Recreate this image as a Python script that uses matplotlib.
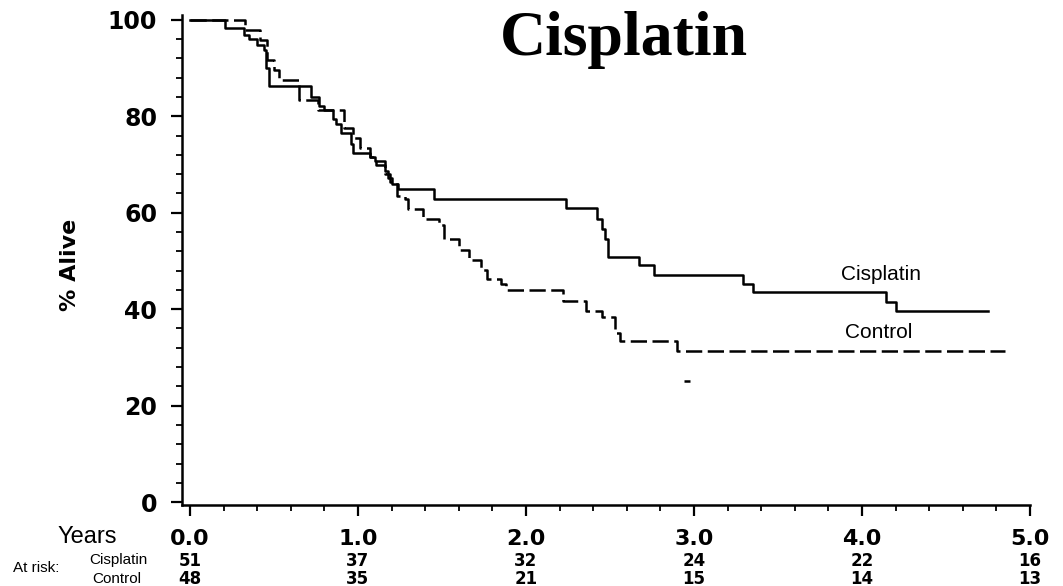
import matplotlib
matplotlib.use("Agg")
import matplotlib.pyplot as plt
import matplotlib.transforms as mtransforms
import numpy as np

# Kaplan-Meier steps (years, % alive)
cis_t = [0.0, 0.21, 0.32, 0.35, 0.40, 0.44, 0.45, 0.47, 0.72, 0.77, 0.80, 0.85, 0.87,
         0.90, 0.96, 0.97, 1.07, 1.10, 1.16, 1.18, 1.20, 1.24, 1.45, 2.24, 2.42, 2.45,
         2.47, 2.49, 2.67, 2.76, 3.29, 3.35, 4.14, 4.20]
cis_s = [100, 98.3, 96.9, 96.0, 94.8, 93.7, 90.0, 86.2, 83.9, 82.2, 81.2, 79.5, 78.3,
         76.6, 74.3, 72.4, 71.5, 70.7, 68.6, 67.2, 65.9, 64.9, 62.8, 60.9, 58.8, 56.7,
         54.6, 50.8, 49.1, 47.1, 45.2, 43.5, 41.4, 39.7]
cis_end = 4.75

ctl_t = [0.0, 0.33, 0.42, 0.46, 0.50, 0.53, 0.65, 0.76, 0.92, 0.97, 1.01, 1.07, 1.11,
         1.16, 1.19, 1.23, 1.28, 1.30, 1.39, 1.48, 1.51, 1.60, 1.66, 1.73, 1.77, 1.85,
         1.88, 2.22, 2.36, 2.45, 2.53, 2.56, 2.90]
ctl_s = [100, 97.9, 95.8, 91.7, 89.6, 87.5, 83.3, 81.2, 77.6, 75.5, 73.4, 71.5, 70.0,
         68.0, 66.3, 63.4, 62.8, 60.7, 58.6, 57.5, 54.6, 52.3, 50.2, 48.1, 46.2, 45.2,
         43.9, 41.8, 39.7, 38.3, 35.1, 33.5, 31.4]
ctl_end = 4.85

stray_x = [2.96]
stray_y = [25.1]

risk_years = [0, 1, 2, 3, 4, 5]
risk_cis = [51, 37, 32, 24, 22, 16]
risk_ctl = [48, 35, 21, 15, 14, 13]

W, H = 1063, 586
fig = plt.figure(figsize=(W / 100, H / 100), dpi=100)
ax = fig.add_axes([182 / W, 1 - 505 / H, (1030 - 182) / W, (505 - 15) / H])

ax.step(cis_t + [cis_end], cis_s + [cis_s[-1]], where="post", color="black", lw=1.8)
ax.step(ctl_t + [ctl_end], ctl_s + [ctl_s[-1]], where="post", color="black", lw=1.8,
        dashes=(6.5, 2.2))
ax.plot(stray_x, stray_y, marker="_", ms=4, mew=1.8, color="black", ls="none")

ax.set_xlim(-0.047, 5.0)
ax.set_ylim(-0.6, 101)
for s in ["top", "right"]:
    ax.spines[s].set_visible(False)
for s in ["left", "bottom"]:
    ax.spines[s].set_linewidth(1.8)

ax.set_yticks(np.arange(0, 101, 20))
ax.set_yticks(np.arange(0, 101, 4), minor=True)
ax.set_xticks(risk_years)
ax.set_xticklabels(["%.1f" % y for y in risk_years])
ax.set_xticks(np.arange(0, 5.01, 0.2), minor=True)
ax.tick_params(axis="both", which="major", length=8, width=1.6, direction="out")
ax.tick_params(axis="both", which="minor", length=4, width=1.3, direction="out")
ax.tick_params(axis="y", which="major", pad=10, labelsize=17)
ax.tick_params(axis="x", which="major", pad=9, labelsize=16)
for lab in ax.get_xticklabels() + ax.get_yticklabels():
    lab.set_fontweight("heavy")

ax.text(3.875, 47.1, "Cisplatin", fontsize=15, family="Liberation Sans", va="center")
ax.text(3.90, 35.1, "Control", fontsize=15, family="Liberation Sans", va="center")

fig.text(70 / W, 1 - 265 / H, "% Alive", rotation=90, fontsize=16, fontweight="heavy",
         ha="center", va="center")
fig.text(624 / W, 1 - 55 / H, "Cisplatin", fontsize=46, fontweight="bold",
         family="Liberation Serif", ha="center", va="baseline")

# at-risk table under the axis
fig.text(57 / W, 1 - 537 / H, "Years", fontsize=17, family="Liberation Sans", va="center")
fig.text(13 / W, 1 - 568 / H, "At risk:", fontsize=11, family="Liberation Sans", va="center")
fig.text(89 / W, 1 - 560 / H, "Cisplatin", fontsize=11, family="Liberation Sans", va="center")
fig.text(92 / W, 1 - 579 / H, "Control", fontsize=11, family="Liberation Sans", va="center")
trans = mtransforms.blended_transform_factory(ax.transData, fig.transFigure)
for yr, a, b in zip(risk_years, risk_cis, risk_ctl):
    fig.text(yr, 1 - 561 / H, str(a), transform=trans, fontsize=12, fontweight="heavy",
             ha="center", va="center")
    fig.text(yr, 1 - 579 / H, str(b), transform=trans, fontsize=12, fontweight="heavy",
             ha="center", va="center")

fig.savefig("out.png", dpi=100)
